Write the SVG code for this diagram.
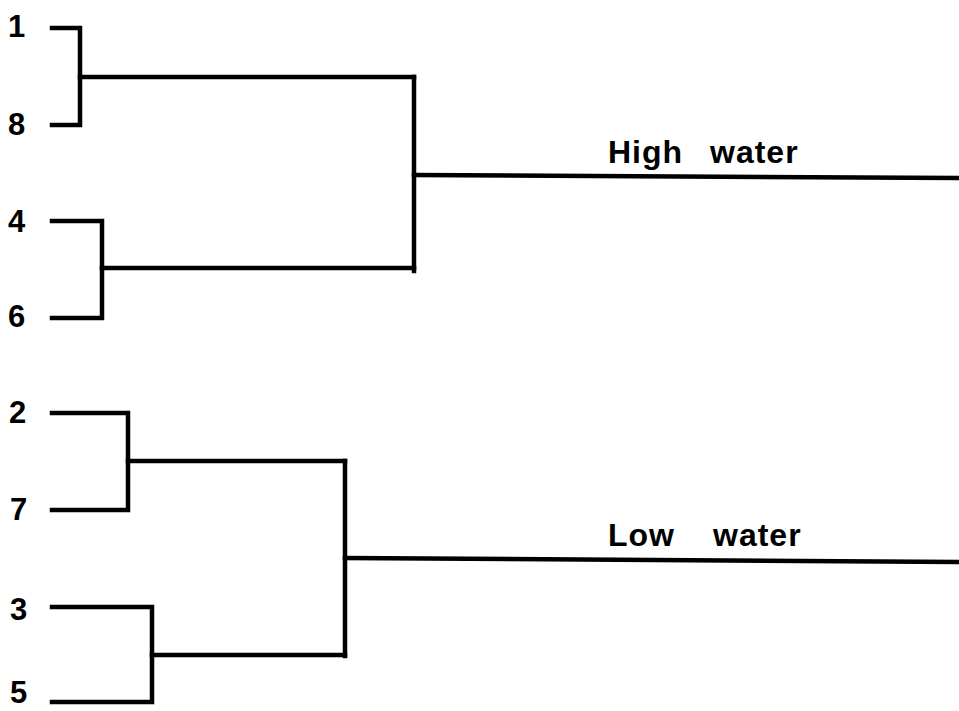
<svg xmlns="http://www.w3.org/2000/svg" width="959" height="711" viewBox="0 0 959 711">
<style>
.lbl{font-family:"Liberation Sans",Arial,sans-serif;font-weight:bold;font-size:31px;fill:#000}
.cap{font-family:"Liberation Sans",Arial,sans-serif;font-weight:bold;font-size:32px;fill:#000;letter-spacing:1px}
.ln{fill:none;stroke:#000;stroke-width:4.5;stroke-linecap:square;stroke-linejoin:miter}
</style>
<rect width="959" height="711" fill="#fff"/>
<g id="connectors">
<path class="ln" d="M52,28 H80 V125 H52"/>
<path class="ln" d="M80,77 H414"/>
<path class="ln" d="M52,221 H102 V318 H52"/>
<path class="ln" d="M102,268 H414"/>
<path class="ln" d="M414,77 V271"/>
<path class="ln" d="M414,175 L959,178"/>
<path class="ln" d="M52,413 H128 V510 H52"/>
<path class="ln" d="M128,461 H345"/>
<path class="ln" d="M52,607 H152 V702 H52"/>
<path class="ln" d="M152,655 H345"/>
<path class="ln" d="M345,461 V656"/>
<path class="ln" d="M345,558 L959,562"/>
</g>
<g id="leaf-1"><text class="lbl" x="8" y="37">1</text></g>
<g id="leaf-8"><text class="lbl" x="8" y="135">8</text></g>
<g id="leaf-4"><text class="lbl" x="8" y="232">4</text></g>
<g id="leaf-6"><text class="lbl" x="8" y="327">6</text></g>
<g id="leaf-2"><text class="lbl" x="9" y="423">2</text></g>
<g id="leaf-7"><text class="lbl" x="10" y="520">7</text></g>
<g id="leaf-3"><text class="lbl" x="10" y="620">3</text></g>
<g id="leaf-5"><text class="lbl" x="10" y="703">5</text></g>
<g id="high-water"><text class="cap" y="163"><tspan x="608">High</tspan><tspan x="710">water</tspan></text></g>
<g id="low-water"><text class="cap" y="546"><tspan x="608">Low</tspan><tspan x="713">water</tspan></text></g>
</svg>
